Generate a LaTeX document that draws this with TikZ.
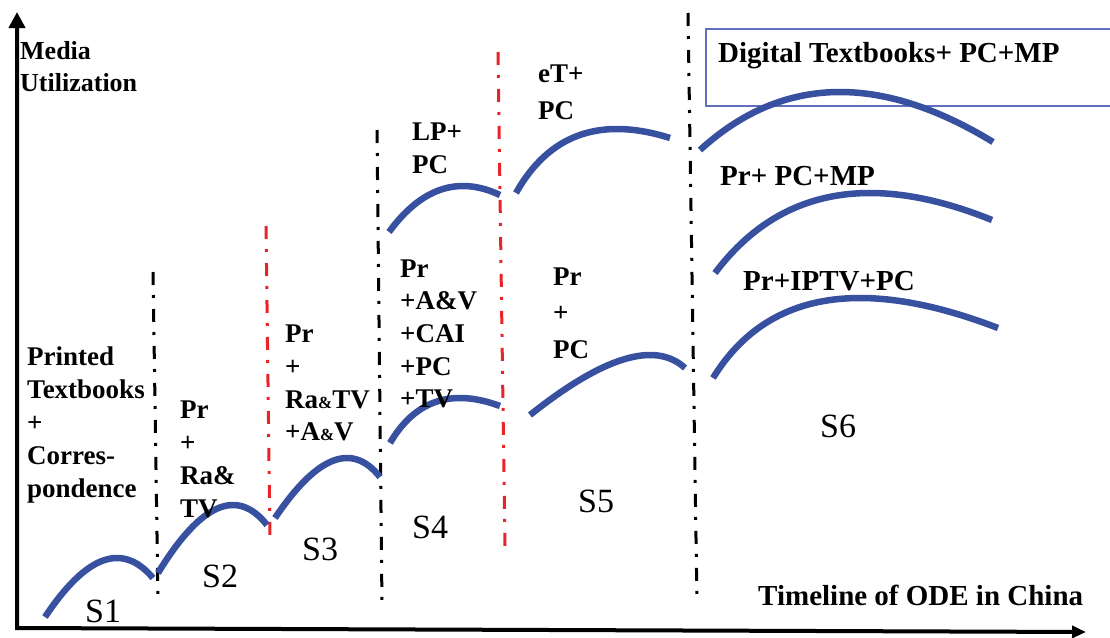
\documentclass[tikz,border=0pt]{standalone}
\usepackage{fontspec}
\setmainfont{Liberation Serif}
\usetikzlibrary{arrows.meta}

\definecolor{mediablue}{RGB}{56,80,160}
\definecolor{frameblue}{RGB}{98,112,188}
\definecolor{stagered}{RGB}{232,36,40}

% Parabolic hump from (#1,#2) through its highest point (#3,#4) to (#5,#6),
% drawn as a quadratic Bezier expressed with cubic control points.
\newcommand\mediahump[6]{%
  \pgfmathsetmacro\hmpA{sqrt(#2-#4)}%
  \pgfmathsetmacro\hmpB{sqrt(#6-#4)}%
  \pgfmathsetmacro\hmpT{\hmpA/(\hmpA+\hmpB)}%
  \pgfmathsetmacro\hmpK{(\hmpA+\hmpB)^2}%
  \pgfmathsetmacro\hmpCy{(#2+#6-\hmpK)/2}%
  \pgfmathsetmacro\hmpCx{(#3-(1-\hmpT)^2*#1-\hmpT^2*#5)/(2*\hmpT*(1-\hmpT))}%
  \draw[hump] (#1,#2) .. controls ({#1+2/3*(\hmpCx-#1)},{#2+2/3*(\hmpCy-#2)})
      and ({#5+2/3*(\hmpCx-#5)},{#6+2/3*(\hmpCy-#6)}) .. (#5,#6);%
}

\begin{document}
\begin{tikzpicture}[x=1pt,y=-1pt,
  lbl/.style={anchor=base west, inner sep=0pt, font=\fontsize{27}{33}\bfseries\selectfont},
  biglbl/.style={anchor=base west, inner sep=0pt, font=\fontsize{29}{33}\bfseries\selectfont},
  axislbl/.style={anchor=base west, inner sep=0pt, font=\fontsize{26}{32}\bfseries\selectfont},
  stagelbl/.style={anchor=base west, inner sep=0pt, font=\fontsize{34}{34}\selectfont},
  divider/.style={line width=3pt, dash pattern=on 13pt off 10pt on 3pt off 11pt},
  hump/.style={mediablue, line width=6.5pt},
]
\useasboundingbox (0,0) rectangle (1110,637);

% axes
\coordinate (origin) at (17,628);
\coordinate (ytip) at (17,12);
\coordinate (xtip) at (1086,632);
\draw[line width=4pt, line join=miter,
      arrows={Triangle[length=16pt,width=16pt]-Triangle[length=14pt,width=12pt]}]
  (ytip) -- (origin) -- (xtip);

% stage dividers
\coordinate (d1t) at (153,272); \coordinate (d1b) at (158,600);
\coordinate (d2t) at (266,226); \coordinate (d2b) at (270,540);
\coordinate (d3t) at (377,130); \coordinate (d3b) at (382,606);
\coordinate (d4t) at (498,52);  \coordinate (d4b) at (505,548);
\coordinate (d5t) at (688,13);  \coordinate (d5b) at (697,604);
\draw[divider, black]     (d1t) -- (d1b);
\draw[divider, stagered]  (d2t) -- (d2b);
\draw[divider, black]     (d3t) -- (d3b);
\draw[divider, stagered]  (d4t) -- (d4b);
\draw[divider, black]     (d5t) -- (d5b);

% frame around the digital textbooks label
\coordinate (fr1) at (1110,29);
\coordinate (fr2) at (706,29);
\coordinate (fr3) at (706,106);
\coordinate (fr4) at (1110,106);
\draw[frameblue, line width=2pt] (fr1) -- (fr2) -- (fr3) -- (fr4);

% media utilisation humps
\mediahump{45}{617}{117}{558}{153}{578}
\mediahump{158}{573}{233}{505}{267}{525}
\mediahump{275}{518}{347}{458}{380}{477}
\mediahump{390}{443}{460}{398}{500}{406}
\mediahump{389}{232}{463}{186}{500}{195}
\mediahump{516}{193}{617}{129}{670}{138}
\mediahump{530}{415}{650}{355}{685}{368}
\mediahump{700}{150}{840}{92}{993}{142}
\mediahump{715}{273}{870}{193}{992}{220}
\mediahump{713}{378}{860}{298}{998}{328}

% axis labels
\node[axislbl] (ymedia) at (20,59) {Media};
\node[axislbl] (yutil) at (20,91) {Utilization};
\node[biglbl] (xlabel) at (758,605) {Timeline of ODE in China};

% stage 1
\node[lbl] (a1) at (27,365) {Printed};
\node[lbl] (a2) at (27,398) {Textbooks};
\node[lbl] (a3) at (27,431) {+};
\node[lbl] (a4) at (27,464) {Corres-};
\node[lbl] (a5) at (27,497) {pondence};

% stage 2
\node[lbl] (b1) at (180,418) {Pr};
\node[lbl] (b2) at (180,451) {+};
\node[lbl] (b3) at (180,484) {Ra\&};
\node[lbl] (b4) at (180,517) {TV};

% stage 3
\node[lbl] (c1) at (285,342) {Pr};
\node[lbl] (c2) at (285,375) {+};
\node[lbl] (c3) at (285,408) {Ra{\fontsize{17}{17}\selectfont\&}TV};
\node[lbl] (c4) at (285,440) {+A{\fontsize{17}{17}\selectfont\&}V};

% stage 4
\node[lbl] (e1) at (412,140) {LP+};
\node[lbl] (e2) at (412,173) {PC};
\node[lbl] (f1) at (400,277) {Pr};
\node[lbl] (f2) at (400,309) {+A\&V};
\node[lbl] (f3) at (400,342) {+CAI};
\node[lbl] (f4) at (400,375) {+PC};
\node[lbl] (f5) at (400,407) {+TV};

% stage 5
\node[lbl] (g1) at (538,82) {eT+};
\node[lbl] (g2) at (538,119) {PC};
\node[lbl] (h1) at (553,285) {Pr};
\node[lbl] (h2) at (553,321) {+};
\node[lbl] (h3) at (553,358) {PC};

% stage 6
\node[biglbl] (k1) at (718,62) {Digital Textbooks+ PC+MP};
\node[biglbl] (k2) at (720,185) {Pr+ PC+MP};
\node[biglbl] (k3) at (743,290) {Pr+IPTV+PC};

% stage names
\node[stagelbl] (s1) at (85,622) {S1};
\node[stagelbl] (s2) at (202,587) {S2};
\node[stagelbl] (s3) at (302,560) {S3};
\node[stagelbl] (s4) at (412,538) {S4};
\node[stagelbl] (s5) at (578,512) {S5};
\node[stagelbl] (s6) at (820,437) {S6};
\end{tikzpicture}
\end{document}
